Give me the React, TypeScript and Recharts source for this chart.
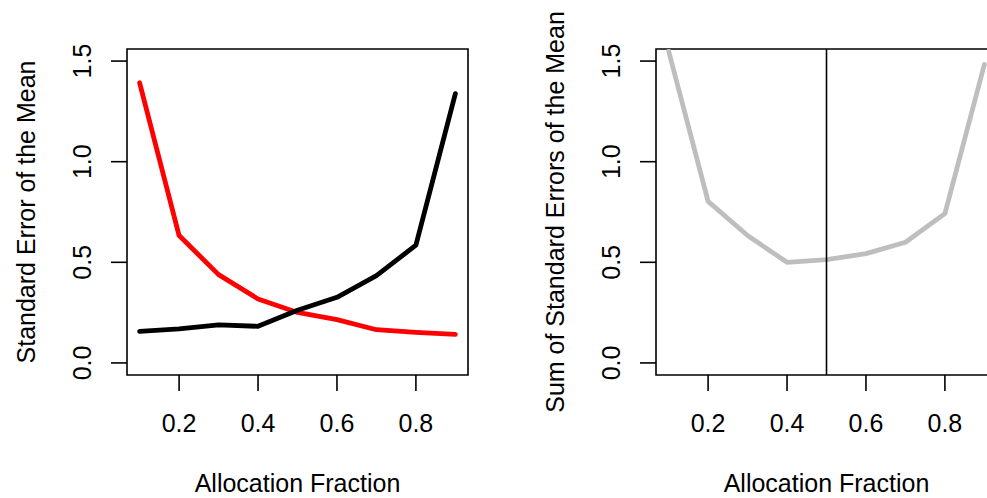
import React from 'react';
import {
  LineChart,
  Line,
  XAxis,
  YAxis,
  ReferenceArea,
  ReferenceLine,
} from 'recharts';

// allocation fractions on the x axis
const fractions = [0.1, 0.2, 0.3, 0.4, 0.5, 0.6, 0.7, 0.8, 0.9];
// standard error of the mean, group A (red) and group B (black)
const seGroupA = [1.392, 0.633, 0.439, 0.318, 0.251, 0.215, 0.165, 0.152, 0.142];
const seGroupB = [0.157, 0.169, 0.189, 0.182, 0.262, 0.326, 0.434, 0.585, 1.338];
// sum of both standard errors
const seTotal = [1.55, 0.803, 0.633, 0.5, 0.513, 0.543, 0.6, 0.742, 1.483];

const xTicks = [0.2, 0.4, 0.6, 0.8];
const yTicks = [0, 0.5, 1, 1.5];

const X_DOMAIN: [number, number] = [0.068, 0.932];
const Y_DOMAIN: [number, number] = [-0.06, 1.56];

const FONT = '"Liberation Sans", Arial, Helvetica, sans-serif';
const FONT_SIZE = 25;
const LINE_W = 4.8;

const rows = fractions.map((f, i) => ({
  f,
  a: seGroupA[i],
  b: seGroupB[i],
  total: seTotal[i],
}));

const XTick = (props: any) => {
  const { x, y, payload } = props;
  return (
    <text
      x={x}
      y={y + 32}
      textAnchor="middle"
      dominantBaseline="central"
      fontFamily={FONT}
      fontSize={FONT_SIZE}
      fill="#000"
    >
      {Number(payload.value).toFixed(1)}
    </text>
  );
};

const YTick = (props: any) => {
  const { x, y, payload } = props;
  const cx = x - 29;
  return (
    <text
      x={cx}
      y={y}
      transform={`rotate(-90, ${cx}, ${y})`}
      textAnchor="middle"
      dominantBaseline="central"
      fontFamily={FONT}
      fontSize={FONT_SIZE}
      fill="#000"
    >
      {Number(payload.value).toFixed(1)}
    </text>
  );
};

const xTitle = (text: string) => (props: any) => {
  const { viewBox } = props;
  return (
    <text
      x={viewBox.x + viewBox.width / 2}
      y={viewBox.y + 108}
      textAnchor="middle"
      dominantBaseline="central"
      fontFamily={FONT}
      fontSize={FONT_SIZE}
      fill="#000"
    >
      {text}
    </text>
  );
};

const yTitle = (text: string, cx: number) => (props: any) => {
  const { viewBox } = props;
  const cy = viewBox.y + viewBox.height / 2;
  return (
    <text
      x={cx}
      y={cy}
      transform={`rotate(-90, ${cx}, ${cy})`}
      textAnchor="middle"
      dominantBaseline="central"
      fontFamily={FONT}
      fontSize={FONT_SIZE}
      fill="#000"
    >
      {text}
    </text>
  );
};

const Panel: React.FC<{ yLabel: string; labelX: number; children: React.ReactNode }> = ({
  yLabel,
  labelX,
  children,
}) => (
  <LineChart width={500} height={498} data={rows} margin={{ top: 49, right: 32, bottom: 0, left: 0 }}>
    <XAxis
      dataKey="f"
      type="number"
      domain={X_DOMAIN}
      ticks={xTicks}
      allowDataOverflow
      height={123}
      tickSize={16}
      tickMargin={0}
      axisLine={false}
      tickLine={{ stroke: '#000', strokeWidth: 1.6 }}
      tick={<XTick />}
      label={{ content: xTitle('Allocation Fraction') }}
    />
    <YAxis
      type="number"
      domain={Y_DOMAIN}
      ticks={yTicks}
      allowDataOverflow
      width={127}
      tickSize={16}
      tickMargin={0}
      axisLine={false}
      tickLine={{ stroke: '#000', strokeWidth: 1.6 }}
      tick={<YTick />}
      label={{ content: yTitle(yLabel, labelX) }}
    />
    <ReferenceArea
      x1={X_DOMAIN[0]}
      x2={X_DOMAIN[1]}
      y1={Y_DOMAIN[0]}
      y2={Y_DOMAIN[1]}
      fill="none"
      fillOpacity={0}
      stroke="#000"
      strokeWidth={1.6}
    />
    {children}
  </LineChart>
);

export default function App() {
  return (
    <div
      style={{
        position: 'absolute',
        left: 0,
        top: 0,
        width: 987,
        height: 498,
        overflow: 'hidden',
        background: '#fff',
      }}
    >
      <div style={{ position: 'absolute', left: 0, top: 0 }}>
        <Panel yLabel="Standard Error of the Mean" labelX={26}>
          <Line
            type="linear"
            dataKey="a"
            stroke="#ff0000"
            strokeWidth={LINE_W}
            strokeLinecap="round"
            strokeLinejoin="round"
            dot={false}
            isAnimationActive={false}
          />
          <Line
            type="linear"
            dataKey="b"
            stroke="#000000"
            strokeWidth={LINE_W}
            strokeLinecap="round"
            strokeLinejoin="round"
            dot={false}
            isAnimationActive={false}
          />
        </Panel>
      </div>
      <div style={{ position: 'absolute', left: 529, top: 0 }}>
        <Panel yLabel="Sum of Standard Errors of the Mean" labelX={26}>
          <Line
            type="linear"
            dataKey="total"
            stroke="#bebebe"
            strokeWidth={LINE_W}
            strokeLinecap="round"
            strokeLinejoin="round"
            dot={false}
            isAnimationActive={false}
          />
          <ReferenceLine x={0.5} stroke="#000" strokeWidth={1.6} />
        </Panel>
      </div>
    </div>
  );
}
